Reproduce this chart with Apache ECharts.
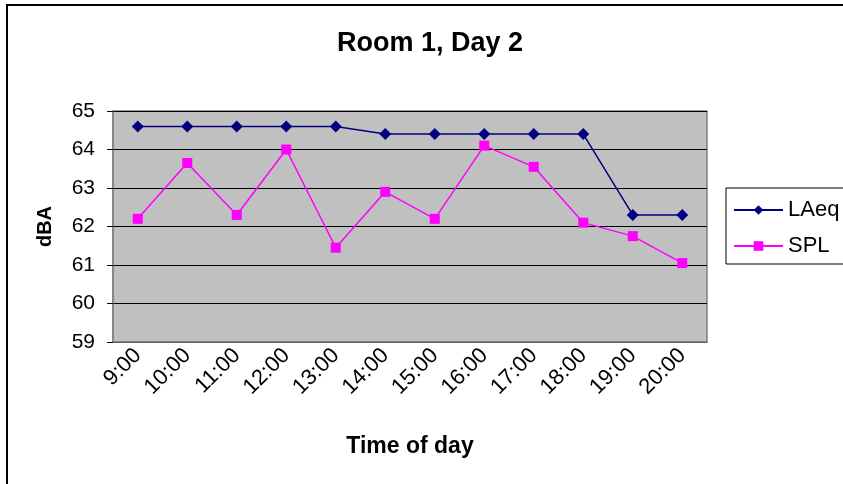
<!DOCTYPE html>
<html>
<head>
<meta charset="utf-8">
<script src="https://cdn.jsdelivr.net/npm/echarts@6/dist/echarts.min.js"></script>
<style>
  html, body { margin: 0; padding: 0; background: #fff; }
  #frame { position: absolute; left: 6px; top: 4px; width: 900px; height: 600px;
           border-left: 2px solid #000; border-top: 2px solid #000; }
  #chart { position: absolute; left: 0; top: 0; width: 843px; height: 484px; }
</style>
</head>
<body>
<div id="frame"></div>
<div id="chart"></div>
<script>
var hours = ['9:00', '10:00', '11:00', '12:00', '13:00', '14:00',
             '15:00', '16:00', '17:00', '18:00', '19:00', '20:00'];
var laeq = [64.6, 64.6, 64.6, 64.6, 64.6, 64.4, 64.4, 64.4, 64.4, 64.4, 62.3, 62.3];
var spl = [62.2, 63.65, 62.3, 64.0, 61.45, 62.9, 62.2, 64.1, 63.55, 62.1, 61.75, 61.05];

var font = 'Arial, "Liberation Sans", sans-serif';

option = {
    animation: false,
    title: {
        text: 'Room 1, Day 2',
        left: 337,
        top: 30,
        padding: 0,
        textStyle: {
            fontFamily: font,
            fontSize: 27,
            fontWeight: 'bold',
            color: '#000'
        }
    },
    grid: {
        left: 113,
        right: 136,
        top: 111,
        bottom: 142,
        show: true,
        backgroundColor: '#C0C0C0',
        borderColor: '#808080',
        borderWidth: 1.5
    },
    legend: {
        orient: 'vertical',
        left: 726,
        top: 188,
        padding: [11, 12, 7, 7],
        itemGap: 14,
        itemWidth: 49,
        itemHeight: 12,
        borderColor: '#000',
        borderWidth: 1,
        borderRadius: 0,
        textStyle: {
            fontFamily: font,
            fontSize: 22,
            color: '#000'
        },
        data: ['LAeq', 'SPL']
    },
    xAxis: {
        type: 'category',
        data: hours,
        boundaryGap: true,
        name: 'Time of day',
        nameLocation: 'middle',
        nameGap: 93,
        nameTextStyle: {
            fontFamily: font,
            fontSize: 23,
            fontWeight: 'bold',
            color: '#000'
        },
        axisLine: { lineStyle: { color: '#808080', width: 1.5 } },
        axisTick: { length: 6, lineStyle: { color: '#000' } },
        axisLabel: {
            rotate: 45,
            margin: 10,
            fontFamily: font,
            fontSize: 22,
            color: '#000'
        },
        splitLine: { show: false }
    },
    yAxis: {
        type: 'value',
        min: 59,
        max: 65,
        interval: 1,
        name: 'dBA',
        nameLocation: 'middle',
        nameGap: 58,
        nameTextStyle: {
            fontFamily: font,
            fontSize: 20,
            fontWeight: 'bold',
            color: '#000'
        },
        axisLine: { show: true, lineStyle: { color: '#808080', width: 1.5 } },
        axisTick: { show: true, length: 6, lineStyle: { color: '#000' } },
        axisLabel: {
            margin: 18,
            fontFamily: font,
            fontSize: 21,
            color: '#000'
        },
        splitLine: { lineStyle: { color: '#000', width: 1 } }
    },
    series: [{
        name: 'LAeq',
        type: 'line',
        data: laeq,
        symbol: 'diamond',
        symbolSize: 12,
        color: '#000080',
        lineStyle: { width: 1.5, color: '#000080' },
        itemStyle: { color: '#000080' }
    }, {
        name: 'SPL',
        type: 'line',
        data: spl,
        symbol: 'rect',
        symbolSize: 10,
        color: '#FF00FF',
        lineStyle: { width: 1.5, color: '#FF00FF' },
        itemStyle: { color: '#FF00FF' }
    }]
};

var myChart = echarts.init(document.getElementById('chart'));
myChart.setOption(option);
</script>
</body>
</html>
